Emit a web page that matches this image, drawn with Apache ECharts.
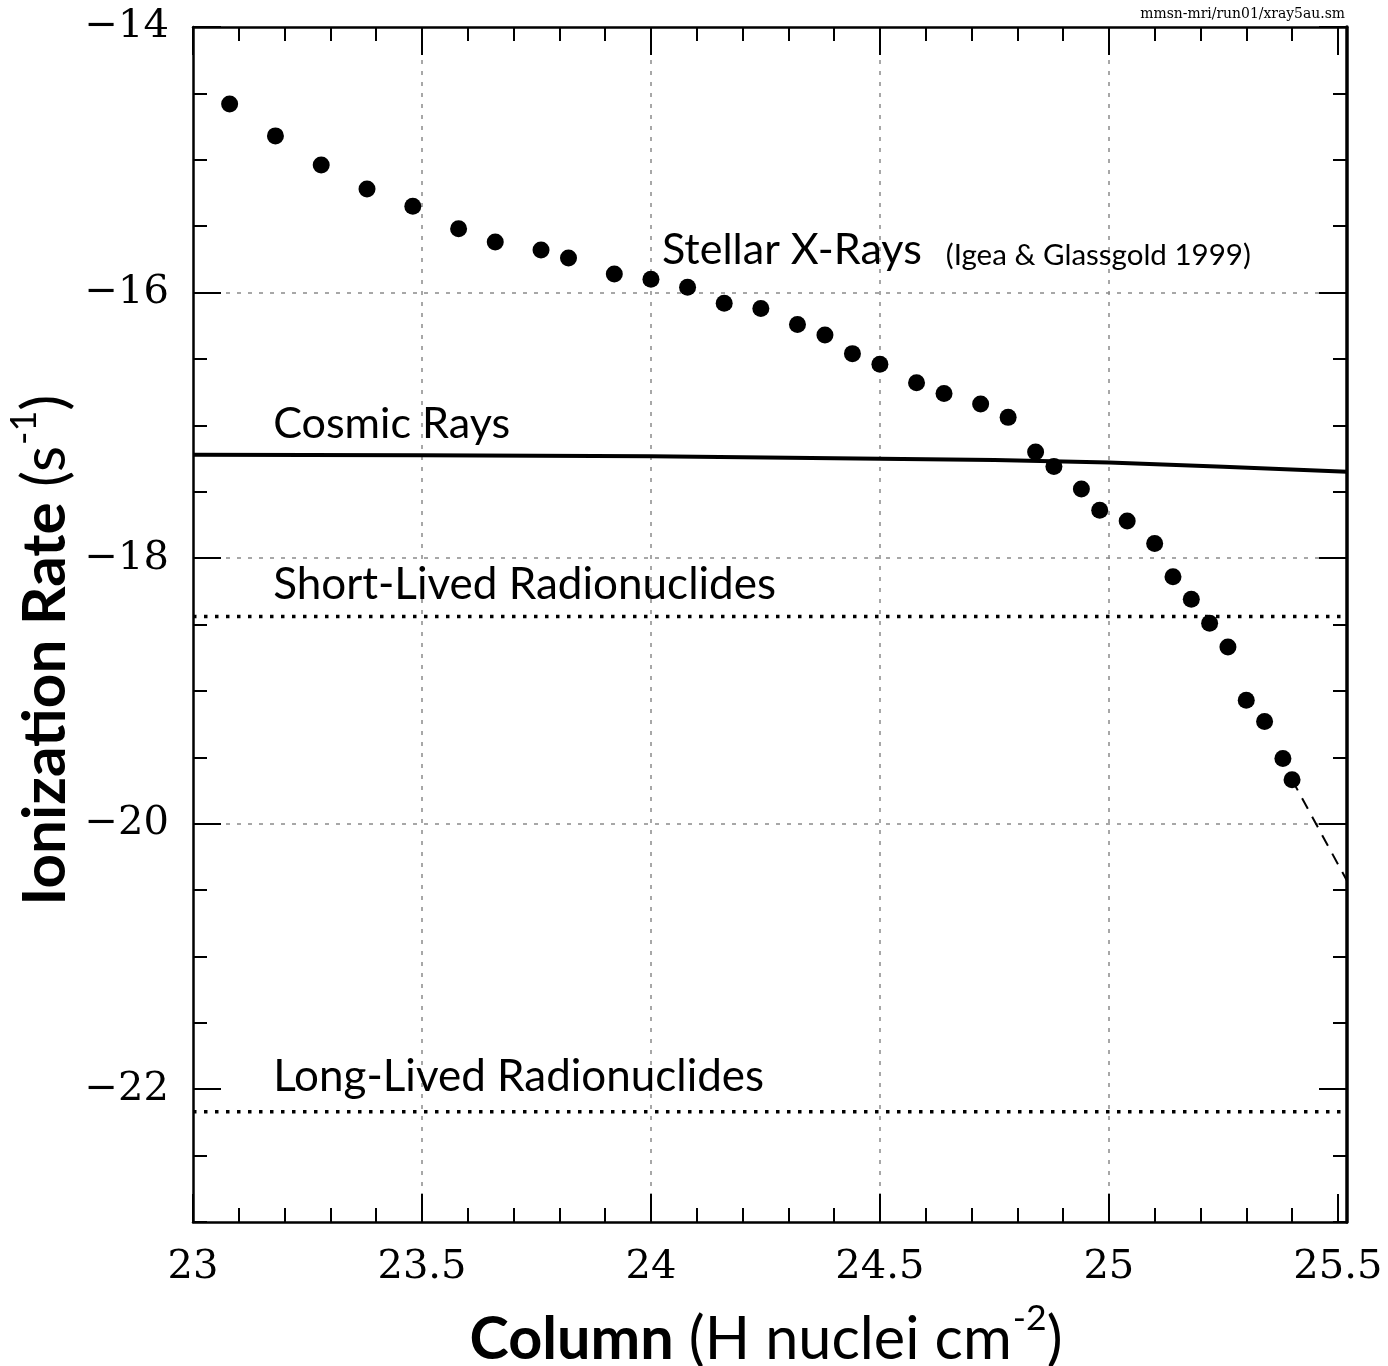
<!DOCTYPE html>
<html><head><meta charset="utf-8">
<script src="https://cdn.jsdelivr.net/npm/echarts@6/dist/echarts.min.js"></script>
<style>html,body{margin:0;padding:0;background:#fff}#c{width:1388px;height:1366px}</style>
</head><body><div id="c"></div>
<script>
// ---------------- DATA ----------------
const xrayColumn = [23.08, 23.18, 23.28, 23.38, 23.48, 23.58, 23.66, 23.76, 23.82, 23.92,
  24.00, 24.08, 24.16, 24.24, 24.32, 24.38, 24.44, 24.50, 24.58, 24.64, 24.72, 24.78,
  24.84, 24.88, 24.94, 24.98, 25.04, 25.10, 25.14, 25.18, 25.22, 25.26, 25.30, 25.34, 25.38, 25.40];
const xrayRate = [-14.58, -14.82, -15.04, -15.22, -15.35, -15.52, -15.62, -15.68, -15.74, -15.86,
  -15.90, -15.96, -16.08, -16.12, -16.24, -16.32, -16.46, -16.54, -16.68, -16.76, -16.84, -16.94,
  -17.20, -17.31, -17.48, -17.64, -17.72, -17.89, -18.14, -18.31, -18.49, -18.67, -19.07, -19.23, -19.51, -19.67];
const xrayTailColumn = [25.40, 25.52];
const xrayTailRate = [-19.67, -20.43];
const cosmicColumn = [23.0, 23.5, 24.0, 24.5, 24.75, 25.0, 25.25, 25.52];
const cosmicRate = [-17.222, -17.226, -17.232, -17.252, -17.262, -17.280, -17.312, -17.349];
const slrColumn = [23.0, 25.52];
const slrRate = [-18.44, -18.44];
const llrColumn = [23.0, 25.52];
const llrRate = [-22.17, -22.17];
const xTickLabels = [23, 23.5, 24, 24.5, 25, 25.5];
const yTickLabels = [-22, -20, -18, -16, -14];
const xRange = [23, 25.52];
const yRange = [-23, -14];
const labelTexts = ['Stellar X-Rays', '(Igea & Glassgold 1999)', 'Cosmic Rays', 'Short-Lived Radionuclides', 'Long-Lived Radionuclides'];
const xTitleParts = ['Column', ' (H nuclei cm', '-2', ')'];
const yTitleParts = ['Ionization Rate', ' (s', '-1', ')'];
const fileTag = 'mmsn-mri/run01/xray5au.sm';

// ---------------- LAYOUT / STYLE ----------------
const zip = (a, b) => a.map((v, i) => [v, b[i]]);
const SANS = 'Lato';
const SERIF = 'DejaVu Serif';
const ctx = document.createElement('canvas').getContext('2d');
function textW(t, weight, family, size) { ctx.font = weight + ' ' + size + 'px "' + family + '"'; return ctx.measureText(t).width; }
function fit(t, weight, family, width) { return 100 * width / textW(t, weight, family, 100); }

const GRID = { left: 193, top: 27, width: 1154, height: 1195 };
const AX = { color: '#000', width: 2.5 };
const gridLine = { show: true, showMinLine: false, showMaxLine: false, lineStyle: { color: '#8a8a8a', width: 1.5, type: [4, 7] } };
const minus = v => (v < 0 ? '\u2212' + Math.abs(v) : String(v));

function xAxisMain(pos, labels) {
  return {
    type: 'value', position: pos, min: xRange[0], max: xRange[1], interval: 0.5,
    axisLine: { show: true, onZero: false, lineStyle: AX },
    axisTick: { show: true, inside: true, length: 28, customValues: xTickLabels, lineStyle: { color: '#000', width: 2 } },
    axisLabel: labels ? { show: true, customValues: xTickLabels, fontFamily: SERIF, fontSize: 40, color: '#000', margin: 26, formatter: minus } : { show: false },
    splitLine: labels ? gridLine : { show: false }
  };
}
function xAxisMinor(pos) {
  return {
    type: 'value', position: pos, min: xRange[0], max: xRange[1], interval: 0.1,
    axisLine: { show: false }, axisLabel: { show: false }, splitLine: { show: false },
    axisTick: { show: true, inside: true, length: 14, lineStyle: { color: '#000', width: 2 } }
  };
}
function yAxisMain(pos, labels) {
  return {
    type: 'value', position: pos, min: yRange[0], max: yRange[1], interval: 0.5,
    axisLine: { show: true, onZero: false, lineStyle: pos === 'right' ? { color: '#000', width: 3.5 } : AX },
    axisTick: { show: true, inside: true, length: 28, customValues: yTickLabels, lineStyle: { color: '#000', width: 2 } },
    axisLabel: labels ? { show: true, customValues: yTickLabels, fontFamily: SERIF, fontSize: 40, color: '#000', margin: 24, formatter: minus } : { show: false },
    splitLine: labels ? gridLine : { show: false }
  };
}
function yAxisMinor(pos) {
  return {
    type: 'value', position: pos, min: yRange[0], max: yRange[1], interval: 0.5,
    axisLine: { show: false }, axisLabel: { show: false }, splitLine: { show: false },
    axisTick: { show: true, inside: true, length: 14, lineStyle: { color: '#000', width: 2 } }
  };
}

const chart = echarts.init(document.getElementById('c'), null, { renderer: 'canvas' });
chart.setOption({
  animation: false,
  backgroundColor: '#fff',
  grid: Object.assign({ containLabel: false }, GRID),
  xAxis: [xAxisMain('bottom', true), xAxisMinor('bottom'), xAxisMain('top', false), xAxisMinor('top')],
  yAxis: [yAxisMain('left', true), yAxisMinor('left'), yAxisMain('right', false), yAxisMinor('right')],
  series: [
    { name: 'Cosmic Rays', type: 'line', data: zip(cosmicColumn, cosmicRate), showSymbol: false, smooth: false,
      lineStyle: { color: '#000', width: 4 }, z: 3 },
    { name: 'Short-Lived Radionuclides', type: 'line', data: zip(slrColumn, slrRate), showSymbol: false,
      lineStyle: { color: '#000', width: 3.5, type: [3.5, 7.5], cap: 'butt' }, z: 3 },
    { name: 'Long-Lived Radionuclides', type: 'line', data: zip(llrColumn, llrRate), showSymbol: false,
      lineStyle: { color: '#000', width: 3.5, type: [3.5, 7.5], cap: 'butt' }, z: 3 },
    { name: 'X-ray tail', type: 'line', data: zip(xrayTailColumn, xrayTailRate), showSymbol: false,
      lineStyle: { color: '#000', width: 2, type: [12, 9] }, z: 3 },
    { name: 'Stellar X-Rays', type: 'scatter', data: zip(xrayColumn, xrayRate), symbol: 'circle', symbolSize: 17,
      itemStyle: { color: '#000', opacity: 1 }, z: 4 }
  ]
});

// annotations, anchored in data coordinates
const labelAnchors = [[24.024, -15.68], [24.644, -15.72], [23.175, -16.99], [23.175, -18.20], [23.175, -21.906]];
const labelWidths = [260, 305, 237, 503, 491];
const graphics = labelTexts.map((t, i) => {
  const p = chart.convertToPixel({ gridIndex: 0 }, labelAnchors[i]);
  const fs = fit(t, 'normal', SANS, labelWidths[i]);
  return { type: 'text', x: p[0], y: p[1], z: 10,
    style: { text: t, fontFamily: SANS, fontSize: fs, fill: '#000', align: 'left', verticalAlign: 'middle', textAlign: 'left', textVerticalAlign: 'middle' } };
});

function titleRich(parts, width) {
  const w = textW(parts[0], 'bold', SANS, 100) + textW(parts[1], 'normal', SANS, 100) + 0.6 * textW(parts[2], 'normal', SANS, 100) + textW(parts[3], 'normal', SANS, 100);
  const S = 100 * width / w;
  return {
    text: '{b|' + parts[0] + '}{n|' + parts[1] + '}{s|' + parts[2] + '}{n|' + parts[3] + '}',
    rich: {
      b: { fontFamily: SANS, fontWeight: 'bold', fontSize: S, lineHeight: S * 1.15, verticalAlign: 'bottom' },
      n: { fontFamily: SANS, fontSize: S, lineHeight: S * 1.15, verticalAlign: 'bottom' },
      s: { fontFamily: SANS, fontSize: S * 0.6, lineHeight: S * 1.15, verticalAlign: 'top', padding: [0, 0, 0, 1] }
    },
    fill: '#000', align: 'center', verticalAlign: 'middle', textAlign: 'center', textVerticalAlign: 'middle'
  };
}
graphics.push({ type: 'text', x: 766, y: 1335, z: 10, style: titleRich(xTitleParts, 592) });
graphics.push({ type: 'text', x: 41, y: 650, rotation: Math.PI / 2, z: 10, style: titleRich(yTitleParts, 510) });
graphics.push({ type: 'text', x: 1345, y: 14, z: 10,
  style: { text: fileTag, fontFamily: SERIF, fontSize: fit(fileTag, 'normal', SERIF, 205), fill: '#000', align: 'right', verticalAlign: 'middle', textAlign: 'right', textVerticalAlign: 'middle' } });
chart.setOption({ graphic: graphics });
</script>
</body></html>
